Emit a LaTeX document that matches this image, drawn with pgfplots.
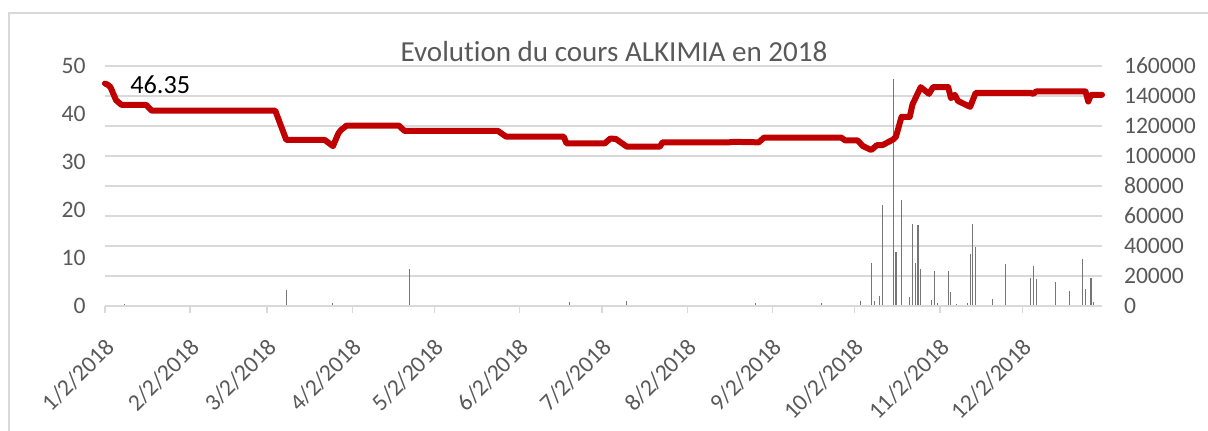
\documentclass[border=0pt]{standalone}
\usepackage{fontspec}
\setmainfont{Carlito}[Ligatures=NoCommon]
\usepackage{pgfplots}
\pgfplotsset{compat=1.18}
\definecolor{gridgray}{RGB}{217,217,217}
\definecolor{txtgray}{RGB}{89,89,89}
\definecolor{linered}{RGB}{192,0,0}
\definecolor{volgray}{RGB}{118,118,118}
\begin{document}
\begin{tikzpicture}
\useasboundingbox (-78.75pt,-93pt) rectangle (827.25pt,229.5pt);
\draw[gridgray,line width=1.2pt] (-72pt,-100pt) -- (-72pt,219.75pt) -- (840pt,219.75pt);
% volume axis (right)
\begin{axis}[
  scale only axis, width=747.75pt, height=180pt,
  xmin=0, xmax=363, ymin=0, ymax=160000,
  axis y line*=right, axis x line=none,
  y axis line style={draw=none},
  ytick={0,20000,...,160000},
  ymajorgrids, grid style={gridgray, line width=1pt},
  ytick style={draw=none},
  scaled y ticks=false,
  yticklabel style={font=\fontsize{17.7}{20}\selectfont, color=txtgray, xshift=13pt},
  /pgf/number format/.cd, 1000 sep={}, fixed, assume math mode=true,
]
\addplot[ycomb, volgray, line width=0.8pt, mark=none] coordinates {
(7,1500) (66,10700) (83,2200) (111,24400) (169,3000) (190,3300) (203,1000) (209,800)
(237,1800) (261,1800) (275,3300) (279,28900) (280,3600) (282,6700) (283,67300)
(287,151100) (288,36200) (290,70700) (293,6200) (294,54400) (295,28900) (296,54000)
(297,24700) (301,4000) (302,23300) (303,1800) (307,23300) (308,9100) (310,1100)
(314,1800) (315,34700) (316,54700) (317,39600) (323,4400) (325,1000) (328,28000)
(335,700) (337,18400) (338,26700) (339,17800) (346,15800) (351,10000) (356,31100)
(357,11100) (359,18400) (360,2400)
};
\end{axis}
% price axis (left)
\begin{axis}[
  scale only axis, width=747.75pt, height=180pt,
  xmin=0, xmax=363, ymin=0, ymax=50,
  axis y line*=left, axis x line*=bottom,
  x axis line style={gridgray, line width=1pt, -},
  y axis line style={draw=none},
  ytick={0,10,...,50},
  ytick style={draw=none},
  xtick={0,31,59,90,120,151,181,212,243,273,304,334},
  xticklabels={1/2/2018,2/2/2018,3/2/2018,4/2/2018,5/2/2018,6/2/2018,7/2/2018,8/2/2018,9/2/2018,10/2/2018,11/2/2018,12/2/2018},
  xtick style={gridgray, line width=1pt},
  tick align=outside, major tick length=5pt,
  yticklabel style={font=\fontsize{17.7}{20}\selectfont, color=txtgray, xshift=-6pt},
  xticklabel style={font=\fontsize{17.7}{20}\selectfont, color=txtgray, rotate=45, anchor=east, xshift=-10pt, yshift=-19pt},
  /pgf/number format/assume math mode=true,
  clip=false,
]
\addplot[linered, line width=4.5pt, line join=round, line cap=round, mark=none] coordinates {
(0,46.35) (1,46.1) (2,45.6) (4,42.9) (6,41.9) (15,41.9) (17,40.7) (62,40.7) (66,34.6)
(80,34.6) (83,33.3) (85,36.0) (86,36.7) (88,37.6) (107,37.6) (109,36.5) (143,36.5)
(146,35.3) (167,35.3) (168,33.9) (182,33.9) (184,34.9) (186,34.8) (190,33.2) (202,33.2)
(203,34.1) (227,34.1) (229,34.2) (238,34.1) (240,35.1) (268,35.1) (269.5,34.5) (274,34.5)
(276,33.3) (279,32.5) (281,33.5) (283,33.5) (287,34.7) (288,35.3) (290,39.4) (293,39.4)
(294,42.0) (297,45.6) (300,44.2) (301.5,45.6) (307,45.6) (308,43.3) (309.4,44.0)
(310.6,42.7) (315,41.5) (317,44.4) (337,44.4) (338,44.2) (339,44.7) (357,44.7)
(358,42.6) (359,44.0) (363,44.0)
};
\node[anchor=base west, inner sep=0pt, font=\fontsize{19.7}{22}\selectfont, black] at (axis cs:9.1,44.3) {46.35};
\end{axis}
\node[anchor=base, inner sep=0pt, font=\fontsize{21.8}{24}\selectfont, color=txtgray] at (381.75pt,183.75pt) {Evolution du cours ALKIMIA en 2018};
\end{tikzpicture}
\end{document}
